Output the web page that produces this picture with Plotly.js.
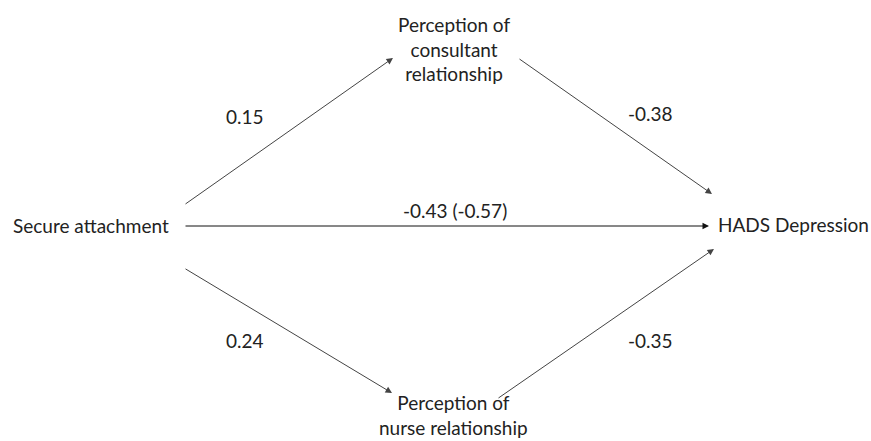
<!DOCTYPE html>
<html>
<head>
<meta charset="utf-8">
<script src="https://cdn.plot.ly/plotly-3.0.1.min.js"></script>
<style>html,body{margin:0;padding:0;background:#fff;}</style>
</head>
<body>
<div id="chart" style="width:871px;height:441px;"></div>
<script>
// Data
const nodeNames = ["Secure attachment", "Perception of<br>consultant<br>relationship", "HADS Depression", "Perception of<br>nurse relationship"];
const edgeFrom = [0, 1, 0, 0, 3];
const edgeTo = [1, 2, 2, 3, 2];
const edgeLabels = ["0.15", "-0.38", "-0.43 (-0.57)", "0.24", "-0.35"];

// Layout (pixel coordinates)
const nodePos = [[91, 225], [454, 49], [793, 224], [453, 415]];
const arrowStart = [[184, 205], [518, 58], [184, 226], [184, 268], [497, 399]];
const arrowEnd = [[393, 58], [712, 194], [709, 226], [392, 393], [714, 249]];
const labelPos = [[245, 116], [650, 113], [455, 210], [245, 340], [650, 340]];

const font = {family: "Lato, 'Open Sans', sans-serif", size: 19, color: "#222"};
const annotations = [];
nodeNames.forEach((n, i) => {
  annotations.push({x: nodePos[i][0], y: nodePos[i][1], xref: "x", yref: "y", text: n,
    showarrow: false, font: font, align: "center"});
});
edgeFrom.forEach((f, i) => {
  annotations.push({x: arrowEnd[i][0], y: arrowEnd[i][1], ax: arrowStart[i][0], ay: arrowStart[i][1],
    xref: "x", yref: "y", axref: "x", ayref: "y", text: "", showarrow: true,
    arrowhead: 2, arrowsize: 1.3, arrowwidth: 1, arrowcolor: i === 2 ? "#111" : "#444"});
  annotations.push({x: labelPos[i][0], y: labelPos[i][1], xref: "x", yref: "y", text: edgeLabels[i],
    showarrow: false, font: font});
});

Plotly.newPlot("chart", [], {
  width: 871, height: 441,
  margin: {l: 0, r: 0, t: 0, b: 0},
  paper_bgcolor: "#fff", plot_bgcolor: "#fff",
  xaxis: {range: [0, 871], visible: false, fixedrange: true},
  yaxis: {range: [441, 0], visible: false, fixedrange: true},
  annotations: annotations,
  showlegend: false
}, {staticPlot: true});
</script>
</body>
</html>
